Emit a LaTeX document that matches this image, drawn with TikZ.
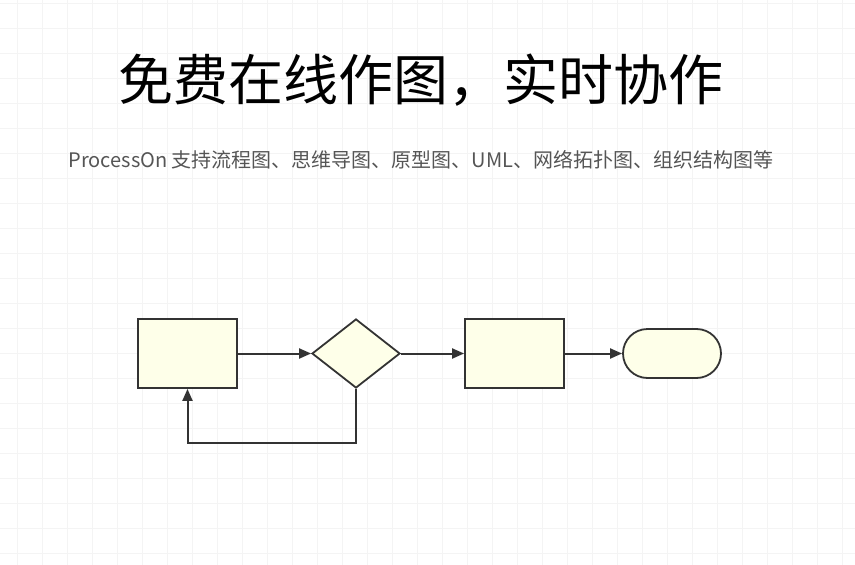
\documentclass[tikz,border=0pt]{standalone}
\usepackage{fontspec}
\setmainfont{Noto Sans CJK SC}
\usetikzlibrary{positioning,shapes.geometric,shapes.misc,arrows.meta}
\definecolor{boxfill}{HTML}{FEFFE9}
\definecolor{edge}{HTML}{333333}
\definecolor{gridc}{HTML}{F4F4F4}
\definecolor{subgray}{HTML}{555555}
\tikzset{
  figbox/.style={draw=edge, fill=boxfill, line width=1.8pt},
  procbox/.style={figbox, rectangle, minimum width=99pt, minimum height=69pt},
  decbox/.style={figbox, diamond, minimum width=88pt, minimum height=69pt, inner sep=0pt},
  termbox/.style={figbox, rounded rectangle, minimum width=98pt, minimum height=49pt, inner xsep=0pt, text width=50pt},
  flow/.style={draw=edge, line width=2pt, -{Triangle[length=12pt,width=10pt]}}
}
\begin{document}
\begin{tikzpicture}[x=1pt,y=-1pt]
  \useasboundingbox (0,0) rectangle (855,565);
  % background grid
  \foreach \gx in {17,42,...,855} \draw[gridc, line width=1pt] (\gx,0) -- (\gx,565);
  \foreach \gy in {3,28,...,565} \draw[gridc, line width=1pt] (0,\gy) -- (855,\gy);

  \node (title) at (421,80) {\fontsize{55}{62}\selectfont 免费在线作图，实时协作};
  \node[text=subgray] (sub) at (421,160) {\fontsize{20}{24}\selectfont ProcessOn 支持流程图、思维导图、原型图、UML、网络拓扑图、组织结构图等};

  \node[procbox] (start) at (187.5,353.5) {};
  \node[decbox] (check) at (356,353.5) {};
  \node[procbox] (work) at (514.5,353.5) {};
  \node[termbox] (stop) at (672,353.5) {};
  \coordinate (turn) at (356,443);

  \draw[flow] (start) -- (check);
  \draw[flow] (check) -- (work);
  \draw[flow] (work) -- (stop);
  \draw[flow] (check.south) -- (turn) -| (start.south);
\end{tikzpicture}
\end{document}
